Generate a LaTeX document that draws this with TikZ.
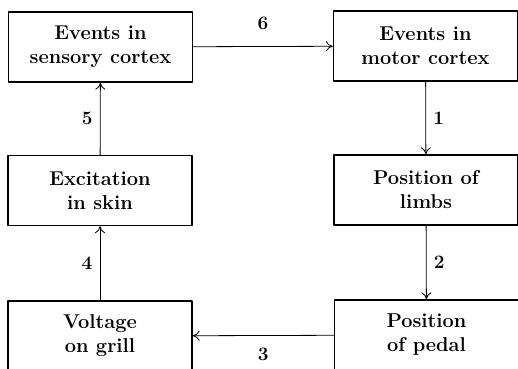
\documentclass[tikz,border=0pt]{standalone}
\usepackage{fontspec}
\usetikzlibrary{positioning,arrows.meta}
\begin{document}
\begin{tikzpicture}[>={To[length=7pt,width=10pt]}, x=1pt, y=-1pt, line join=round,
  block/.style={draw, line width=1.3pt, minimum width=184pt, minimum height=70pt,
    align=center, inner sep=0pt, font=\fontsize{20}{24}\selectfont\bfseries},
  link/.style={->, line width=0.8pt},
  num/.style={font=\fontsize{19}{20}\selectfont\bfseries}]
	\useasboundingbox (0,0) rectangle (518,368);
	\clip (0,0) rectangle (518,368);
	% boxes
	\node[block] (sens) at (100.5,47) {Events in\\sensory cortex};
	\node[block] (motor) at (425.5,46) {Events in\\motor cortex};
	\node[block] (skin) at (100,190.5) {Excitation\\in skin};
	\node[block] (limbs) at (426,190) {Position of\\limbs};
	\node[block] (grill) at (100,336) {Voltage\\on grill};
	\node[block] (pedal) at (426.5,335) {Position\\of pedal};
	% connectors
	\draw[link] (motor) -- node[num, right=4pt] {1} (limbs);
	\draw[link] (limbs) -- node[num, right=4pt] {2} (pedal);
	\draw[link] (pedal) -- node[num, below=9pt] {3} (grill);
	\draw[link] (grill) -- node[num, left=4pt] {4} (skin);
	\draw[link] (skin) -- node[num, left=4pt] {5} (sens);
	\draw[link] (sens) -- node[num, above=13pt] {6} (motor);
\end{tikzpicture}
\end{document}
